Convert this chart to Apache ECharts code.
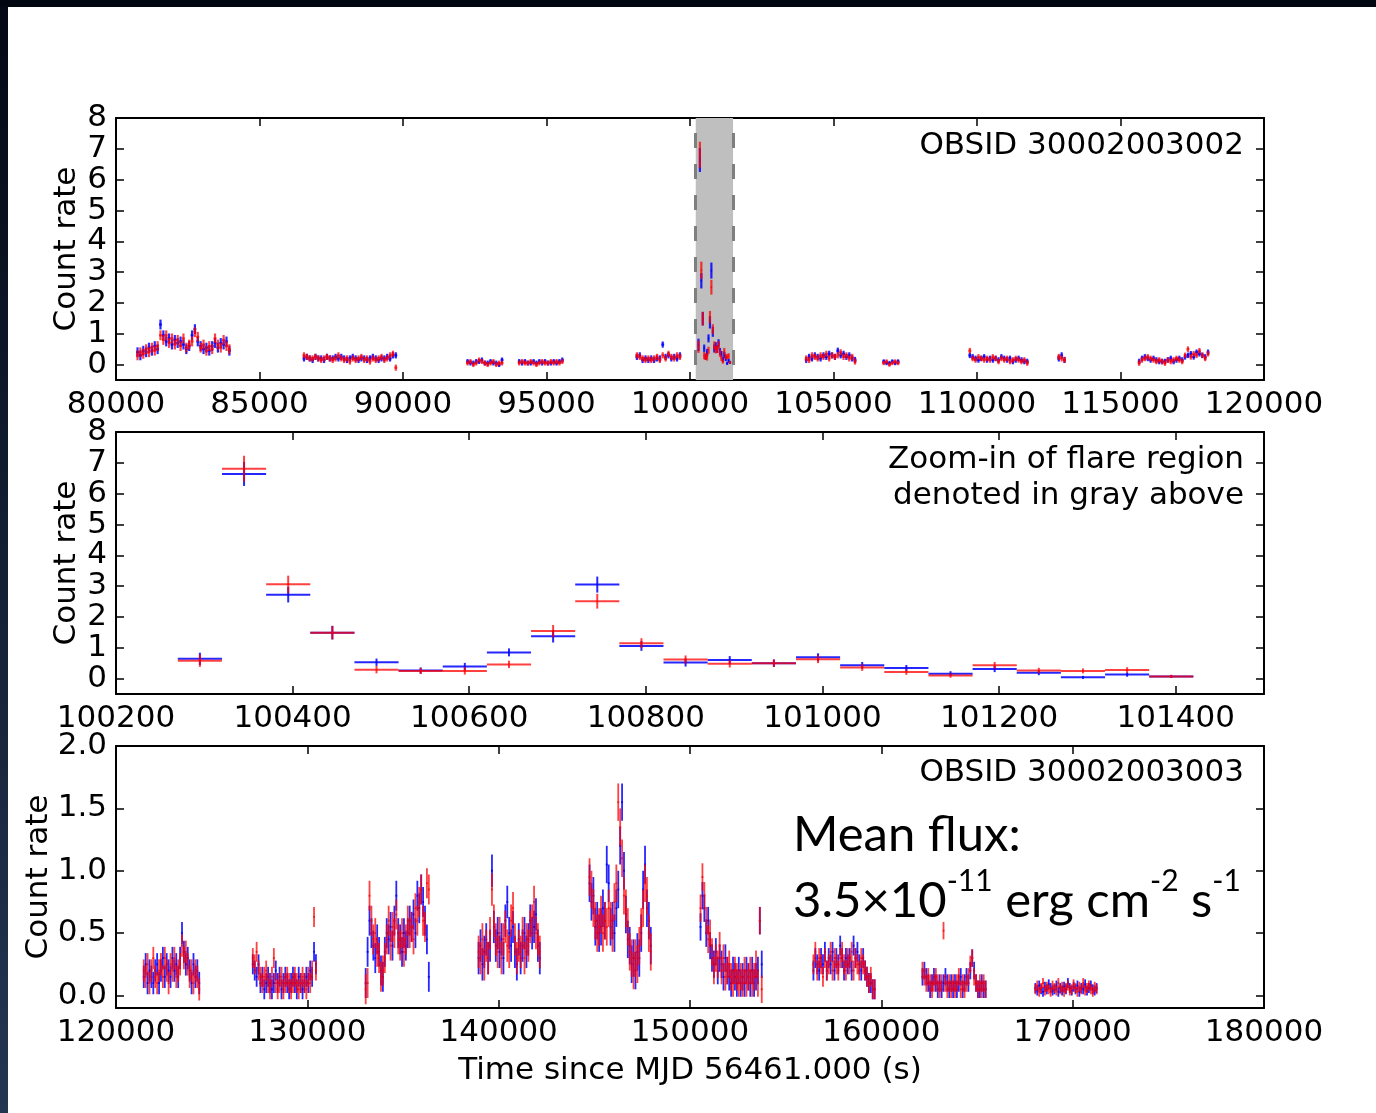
<!DOCTYPE html>
<html>
<head>
<meta charset="utf-8">
<script src="https://cdn.jsdelivr.net/npm/echarts@6/dist/echarts.min.js"></script>
<style>
  html, body { margin: 0; padding: 0; background: #ffffff; }
  #chart { width: 1376px; height: 1113px; }
</style>
</head>
<body>
<div id="chart"></div>
<script>
// ---------------------------------------------------------------------------
// Light-curve data (count rate per bin). Blue = FPMB, red = FPMA.
// ---------------------------------------------------------------------------

// OBSID 30002003002: segment start times (centre of first bin, s) and 100 s bins
const obs1Step = 100;
const obs1Start = [80750, 86550, 92250, 94050, 98150, 104050, 106750, 109750, 112850, 115650];
const obs1Err = [0.16, 0.10, 0.08, 0.08, 0.10, 0.10, 0.07, 0.09, 0.10, 0.09];
const obs1Blue = [
  [0.40,0.30,0.45,0.40,0.55,0.45,0.60,0.50,1.30,0.95,0.75,0.85,0.65,0.80,0.70,0.75,0.65,0.50,0.60,0.95,1.15,0.75,0.60,0.50,0.55,0.45,0.60,0.70,0.55,0.70,0.65,0.75,0.45],
  [0.20,0.25,0.20,0.15,0.25,0.20,0.20,0.15,0.25,0.20,0.20,0.25,0.20,0.25,0.20,0.15,0.20,0.25,0.20,0.15,0.20,0.20,0.15,0.20,0.25,0.20,0.15,0.20,0.20,0.25,0.20,0.30,0.30],
  [0.10,0.05,0.05,0.10,0.10,0.15,0.05,0.05,0.10,0.05,0.05,0.00,0.15],
  [0.10,0.05,0.10,0.05,0.05,0.10,0.05,0.10,0.05,0.10,0.05,0.05,0.10,0.05,0.10,0.15],
  [0.25,0.30,0.15,0.20,0.15,0.20,0.15,0.20,0.20,0.65,0.25,0.30,0.20,0.25,0.20,0.30],
  [0.15,0.25,0.20,0.30,0.25,0.20,0.30,0.25,0.35,0.30,0.25,0.45,0.30,0.35,0.25,0.30,0.20,0.15],
  [0.10,0.05,0.05,0.10,0.05,0.10],
  [0.30,0.25,0.20,0.15,0.20,0.25,0.15,0.20,0.15,0.20,0.15,0.25,0.20,0.15,0.20,0.10,0.15,0.20,0.15,0.10,0.10],
  [0.20,0.30,0.15],
  [0.10,0.20,0.25,0.20,0.15,0.20,0.15,0.10,0.10,0.10,0.15,0.20,0.10,0.15,0.20,0.15,0.25,0.30,0.35,0.25,0.40,0.35,0.30,0.25,0.40]
];
const obs1Red = [
  [0.30,0.40,0.35,0.50,0.40,0.55,0.45,0.60,0.95,0.80,0.95,0.70,0.85,0.65,0.80,0.60,0.85,0.55,0.65,0.75,1.05,0.90,0.55,0.65,0.45,0.60,0.50,0.85,0.65,0.55,0.80,0.60,0.50],
  [0.30,0.25,0.20,0.20,0.25,0.20,0.15,0.20,0.25,0.20,0.15,0.20,0.30,0.20,0.15,0.20,0.10,0.20,0.15,0.20,0.25,0.15,0.20,0.10,0.20,0.15,0.20,0.25,0.15,0.20,0.30,0.35,-0.10],
  [0.05,0.10,0.00,0.05,0.15,0.10,0.05,0.00,0.05,0.10,0.00,0.05,0.05],
  [0.05,0.10,0.05,0.05,0.10,0.05,0.00,0.05,0.10,0.05,0.05,0.10,0.05,0.10,0.05,0.10],
  [0.30,0.25,0.20,0.15,0.20,0.15,0.20,0.25,0.15,0.30,0.20,0.35,0.25,0.20,0.30,0.25],
  [0.20,0.15,0.30,0.25,0.20,0.30,0.25,0.35,0.20,0.30,0.25,0.30,0.40,0.25,0.30,0.20,0.25,0.10],
  [0.05,0.10,0.00,0.05,0.10,0.05],
  [0.45,0.20,0.15,0.25,0.20,0.15,0.20,0.15,0.25,0.20,0.10,0.20,0.15,0.20,0.10,0.15,0.20,0.15,0.10,0.15,0.05],
  [0.25,0.20,0.15],
  [0.05,0.15,0.20,0.25,0.20,0.15,0.10,0.15,0.10,0.05,0.15,0.10,0.15,0.20,0.15,0.10,0.30,0.50,0.25,0.35,0.30,0.45,0.30,0.20,0.35]
];

// Flare interval (50 s bins), shown in the middle panel and shaded in the top one
const flareRange = [100200, 101500];
const flareStep = 50;
const flareTime = [100295,100345,100395,100445,100495,100545,100595,100645,100695,100745,100795,100845,
                   100895,100945,100995,101045,101095,101145,101195,101245,101295,101345,101395];
const flareBlue = [0.64,6.64,2.72,1.49,0.53,0.26,0.39,0.85,1.37,3.05,1.06,0.52,0.60,0.50,0.69,0.43,0.34,0.16,0.31,0.19,0.04,0.13,0.07];
const flareBlueErr = [0.20,0.39,0.25,0.22,0.12,0.10,0.12,0.13,0.20,0.26,0.16,0.13,0.13,0.12,0.13,0.11,0.10,0.08,0.10,0.08,0.05,0.07,0.05];
const flareRed = [0.58,6.81,3.06,1.49,0.29,0.25,0.25,0.46,1.54,2.51,1.15,0.62,0.48,0.50,0.63,0.36,0.21,0.10,0.43,0.26,0.25,0.28,0.07];
const flareRedErr = [0.20,0.42,0.28,0.22,0.12,0.10,0.12,0.12,0.20,0.24,0.16,0.13,0.12,0.12,0.13,0.11,0.09,0.07,0.11,0.09,0.08,0.09,0.05];

// OBSID 30002003003: 100 s bins
const obs2Step = 100;
const obs2Start = [121450, 127150, 133050, 138950, 144750, 150550, 156450, 162150, 168050];
const obs2Err = [0.09, 0.08, 0.12, 0.13, 0.15, 0.11, 0.08, 0.07, 0.04];
const obs2Blue = [
  [0.15,0.25,0.10,0.20,0.15,0.10,0.20,0.25,0.10,0.20,0.30,0.15,0.25,0.20,0.15,0.30,0.20,0.25,0.15,0.30,0.50,0.35,0.25,0.30,0.20,0.10,0.25,0.15,0.20,0.10],
  [0.25,0.20,0.15,0.25,0.10,0.15,0.05,0.10,0.15,0.10,0.05,0.10,0.20,0.10,0.15,0.05,0.10,0.15,0.10,0.05,0.10,0.15,0.10,0.05,0.15,0.10,0.05,0.10,0.15,0.10,0.20,0.15,0.35,0.25],
  [0.10,0.35,0.60,0.50,0.40,0.30,0.45,0.35,0.20,0.15,0.35,0.50,0.45,0.55,0.40,0.60,0.80,0.50,0.45,0.35,0.50,0.40,0.50,0.60,0.55,0.65,0.50,0.80,0.70,0.85,0.75,0.60,0.45,0.15],
  [0.30,0.40,0.25,0.35,0.45,0.30,0.40,1.00,0.55,0.40,0.50,0.35,0.45,0.30,0.60,0.75,0.50,0.40,0.55,0.35,0.25,0.45,0.30,0.40,0.50,0.35,0.45,0.60,0.50,0.55,0.65,0.40,0.30],
  [0.90,0.75,0.80,0.55,0.60,0.50,0.55,0.70,0.60,1.05,0.90,0.55,0.60,0.50,0.70,0.85,1.20,1.55,1.00,0.65,0.45,0.40,0.25,0.30,0.20,0.35,0.30,0.50,0.85,1.05,0.70,0.60,0.40],
  [0.55,0.80,0.70,0.50,0.60,0.40,0.30,0.25,0.35,0.20,0.30,0.25,0.15,0.30,0.20,0.15,0.10,0.20,0.15,0.10,0.20,0.10,0.15,0.10,0.20,0.15,0.10,0.20,0.10,0.15,0.20,0.60,0.25],
  [0.20,0.30,0.25,0.20,0.30,0.25,0.35,0.20,0.30,0.25,0.35,0.20,0.30,0.25,0.40,0.30,0.20,0.30,0.25,0.30,0.20,0.40,0.30,0.35,0.25,0.20,0.30,0.20,0.15,0.10,0.10,0.05,0.05],
  [0.15,0.20,0.15,0.10,0.05,0.10,0.15,0.10,0.05,0.10,0.05,0.10,0.15,0.10,0.05,0.10,0.05,0.10,0.05,0.10,0.15,0.05,0.10,0.15,0.10,0.20,0.30,0.20,0.10,0.05,0.05,0.10,0.05,0.05],
  [0.06,0.04,0.08,0.05,0.03,0.07,0.05,0.09,0.06,0.04,0.05,0.08,0.03,0.06,0.04,0.07,0.05,0.10,0.06,0.04,0.07,0.05,0.08,0.03,0.06,0.05,0.09,0.04,0.06,0.08,0.05,0.04,0.06]
];
const obs2Red = [
  [0.20,0.15,0.25,0.10,0.20,0.30,0.15,0.10,0.20,0.25,0.15,0.30,0.20,0.10,0.25,0.20,0.30,0.15,0.20,0.25,0.40,0.30,0.35,0.25,0.15,0.20,0.10,0.20,0.15,0.05],
  [0.30,0.25,0.35,0.20,0.15,0.10,0.15,0.20,0.10,0.05,0.15,0.30,0.10,0.05,0.10,0.15,0.05,0.10,0.15,0.10,0.05,0.10,0.15,0.10,0.05,0.10,0.15,0.10,0.05,0.15,0.10,0.20,0.63,0.20],
  [0.05,0.10,0.80,0.60,0.45,0.50,0.35,0.30,0.15,0.20,0.30,0.45,0.60,0.40,0.55,0.50,0.65,0.45,0.40,0.50,0.35,0.45,0.60,0.50,0.55,0.45,0.70,0.60,0.75,0.85,0.60,0.55,0.90,0.85],
  [0.35,0.30,0.45,0.25,0.40,0.30,0.50,0.85,0.60,0.45,0.35,0.50,0.30,0.45,0.55,0.40,0.35,0.60,0.70,0.45,0.30,0.40,0.35,0.50,0.30,0.45,0.40,0.55,0.60,0.75,0.50,0.45,0.35],
  [0.95,0.85,0.70,0.60,0.50,0.55,0.65,0.50,0.60,0.55,0.70,0.60,0.50,0.75,0.90,1.55,1.35,1.10,0.80,0.70,0.55,0.35,0.30,0.20,0.30,0.25,0.40,0.55,0.70,0.90,0.80,0.50,0.35],
  [0.70,0.95,0.80,0.60,0.45,0.50,0.35,0.20,0.30,0.25,0.40,0.20,0.30,0.15,0.20,0.25,0.15,0.10,0.20,0.15,0.10,0.15,0.10,0.20,0.10,0.15,0.20,0.10,0.15,0.25,0.10,0.60,0.05],
  [0.25,0.35,0.20,0.30,0.25,0.15,0.30,0.20,0.25,0.35,0.20,0.30,0.25,0.20,0.30,0.35,0.25,0.20,0.30,0.25,0.35,0.20,0.30,0.25,0.20,0.30,0.25,0.20,0.15,0.10,0.15,0.05,0.05],
  [0.20,0.15,0.10,0.15,0.10,0.05,0.10,0.15,0.10,0.05,0.10,0.52,0.10,0.05,0.10,0.05,0.10,0.05,0.10,0.15,0.05,0.10,0.05,0.10,0.15,0.25,0.30,0.15,0.10,0.05,0.10,0.05,0.10,0.05],
  [0.05,0.08,0.03,0.06,0.10,0.04,0.07,0.05,0.03,0.08,0.06,0.04,0.10,0.05,0.07,0.03,0.06,0.08,0.04,0.05,0.09,0.06,0.03,0.07,0.05,0.10,0.04,0.06,0.08,0.05,0.03,0.07,0.05]
];

// Axis tick labels
const xTicksTop = [80000, 85000, 90000, 95000, 100000, 105000, 110000, 115000, 120000];
const xTicksFlare = [100200, 100400, 100600, 100800, 101000, 101200, 101400];
const xTicksObs2 = [120000, 130000, 140000, 150000, 160000, 170000, 180000];
const yTicksRate = [0, 1, 2, 3, 4, 5, 6, 7, 8];
const yTicksObs2 = [0, 0.5, 1.0, 1.5, 2.0];

// ---------------------------------------------------------------------------
// Rows for the error-bar series: [time, rate, error, half bin width]
// ---------------------------------------------------------------------------
function segmentRows(starts, step, values, errs) {
  const rows = [];
  values.forEach((seg, s) => seg.forEach((v, k) => rows.push([starts[s] + k * step, v, errs[s], step / 2])));
  return rows;
}
function flareRows(values, errs) {
  return flareTime.map((t, i) => [t, values[i], errs[i], flareStep / 2]);
}

const FONT = '"DejaVu Sans", "Liberation Sans", sans-serif';
const SLIDE_FONT = 'Lato, "Open Sans", sans-serif';
const BLUE = 'rgba(0,0,255,0.85)';
const RED = 'rgba(255,0,0,0.75)';

// Plot-area layout shared by the three panels
const PLOT_LEFT = 116, PLOT_W = 1148, PLOT_H = 262;
const PANEL_TOP = [118, 432, 746];

// Error bar cross: vertical rate error plus horizontal bin width
function errorBar(lineWidth) {
  return function (params, api) {
    const t = api.value(0), y = api.value(1), e = api.value(2), hb = api.value(3);
    const hi = api.coord([t, y + e]);
    const lo = api.coord([t, y - e]);
    const l = api.coord([t - hb, y]);
    const r = api.coord([t + hb, y]);
    const style = { stroke: api.visual('color'), lineWidth: lineWidth };
    return {
      type: 'group',
      children: [
        { type: 'line', shape: { x1: hi[0], y1: hi[1], x2: lo[0], y2: lo[1] }, style: style },
        { type: 'line', shape: { x1: l[0], y1: l[1], x2: r[0], y2: r[1] }, style: style }
      ]
    };
  };
}

const tickStyle = { inside: true, length: 8, lineStyle: { color: '#000', width: 1.5 } };
const frameLine = { show: true, onZero: false, lineStyle: { color: '#000', width: 2 } };
const labelStyle = { color: '#000', fontSize: 31, fontFamily: FONT };

function xAxesFor(gridIndex, min, max, ticks, extra) {
  const bottom = Object.assign({
    type: 'value', gridIndex: gridIndex, min: min, max: max, position: 'bottom',
    axisLine: frameLine, splitLine: { show: false },
    axisTick: Object.assign({ customValues: ticks }, tickStyle),
    axisLabel: Object.assign({ customValues: ticks, margin: 9, formatter: v => String(v) }, labelStyle)
  }, extra || {});
  const top = {
    type: 'value', gridIndex: gridIndex, min: min, max: max, position: 'top',
    axisLine: frameLine, splitLine: { show: false },
    axisTick: Object.assign({ customValues: ticks }, tickStyle),
    axisLabel: { show: false }
  };
  return [bottom, top];
}
function yAxesFor(gridIndex, min, max, ticks, decimals, nameGap) {
  const left = {
    type: 'value', gridIndex: gridIndex, min: min, max: max, position: 'left',
    axisLine: frameLine, splitLine: { show: false },
    axisTick: Object.assign({ customValues: ticks }, tickStyle),
    axisLabel: Object.assign({ customValues: ticks, margin: 9, formatter: v => v.toFixed(decimals) }, labelStyle),
    name: 'Count rate', nameLocation: 'middle', nameRotate: 90, nameGap: nameGap,
    nameMoveOverlap: false, nameTextStyle: labelStyle
  };
  const right = {
    type: 'value', gridIndex: gridIndex, min: min, max: max, position: 'right',
    axisLine: frameLine, splitLine: { show: false },
    axisTick: Object.assign({ customValues: ticks }, tickStyle),
    axisLabel: { show: false }
  };
  return [left, right];
}

const xAxes = [].concat(
  xAxesFor(0, 80000, 120000, xTicksTop),
  xAxesFor(1, flareRange[0], flareRange[1], xTicksFlare),
  xAxesFor(2, 120000, 180000, xTicksObs2, {
    name: 'Time since MJD 56461.000 (s)', nameLocation: 'middle', nameGap: 47, nameTextStyle: labelStyle
  })
);
const yAxes = [].concat(
  yAxesFor(0, -0.5, 8, yTicksRate, 0, 34),
  yAxesFor(1, -0.5, 8, yTicksRate, 0, 34),
  yAxesFor(2, -0.1, 2.0, yTicksObs2, 1, 62)
);

function barSeries(axisIndex, color, rows, lineWidth, z) {
  return {
    type: 'custom', xAxisIndex: axisIndex * 2, yAxisIndex: axisIndex * 2,
    renderItem: errorBar(lineWidth), data: rows, clip: true,
    itemStyle: { color: color }, silent: true, z: z
  };
}

const series = [
  // Shaded flare interval with dashed edges
  {
    type: 'line', xAxisIndex: 0, yAxisIndex: 0, data: [], z: 1, silent: true,
    markArea: { silent: true, itemStyle: { color: '#bfbfbf', opacity: 1 },
      data: [[{ xAxis: flareRange[0] }, { xAxis: flareRange[1] }]] },
    markLine: { silent: true, symbol: ['none', 'none'], label: { show: false },
      lineStyle: { color: '#7f7f7f', width: 3, type: [15, 16], dashOffset: 16 },
      data: [{ xAxis: flareRange[0] }, { xAxis: flareRange[1] }] }
  },
  barSeries(0, BLUE, segmentRows(obs1Start, obs1Step, obs1Blue, obs1Err).concat(flareRows(flareBlue, flareBlueErr)), 2.2, 3),
  barSeries(0, RED, segmentRows(obs1Start, obs1Step, obs1Red, obs1Err).concat(flareRows(flareRed, flareRedErr)), 2.2, 4),
  barSeries(1, BLUE, flareRows(flareBlue, flareBlueErr), 2, 3),
  barSeries(1, RED, flareRows(flareRed, flareRedErr), 2, 4),
  barSeries(2, BLUE, segmentRows(obs2Start, obs2Step, obs2Blue, obs2Err), 1.8, 3),
  barSeries(2, RED, segmentRows(obs2Start, obs2Step, obs2Red, obs2Err), 1.8, 4)
];

const annotationStyle = { fill: '#000', font: '31px ' + FONT, align: 'right', verticalAlign: 'middle' };

const option = {
  animation: false,
  backgroundColor: '#ffffff',
  grid: PANEL_TOP.map(top => ({ left: PLOT_LEFT, top: top, width: PLOT_W, height: PLOT_H, containLabel: false })),
  xAxis: xAxes,
  yAxis: yAxes,
  series: series,
  graphic: [
    // slide frame
    { type: 'rect', z: 100, shape: { x: 0, y: 0, width: 8, height: 1113 },
      style: { fill: new echarts.graphic.LinearGradient(0, 0, 0, 1, [
        { offset: 0, color: '#030814' }, { offset: 1, color: '#233652' }]) } },
    { type: 'rect', z: 101, shape: { x: 0, y: 0, width: 1376, height: 7 }, style: { fill: '#020611' } },
    // panel annotations
    { type: 'text', z: 50, x: 1244, y: 146, style: Object.assign({ text: 'OBSID 30002003002' }, annotationStyle) },
    { type: 'text', z: 50, x: 1244, y: 460, style: Object.assign({ text: 'Zoom-in of flare region' }, annotationStyle) },
    { type: 'text', z: 50, x: 1244, y: 496, style: Object.assign({ text: 'denoted in gray above' }, annotationStyle) },
    { type: 'text', z: 50, x: 1244, y: 773, style: Object.assign({ text: 'OBSID 30002003003' }, annotationStyle) },
    { type: 'text', z: 50, x: 793, y: 835, style: { text: 'Mean flux:', fill: '#000',
      font: '49px ' + SLIDE_FONT, align: 'left', verticalAlign: 'middle' } },
    { type: 'text', z: 50, x: 793, y: 866, style: {
      text: '{b|3.5×10}{s|-11}{b| erg cm}{s|-2}{b| s}{s|-1}',
      align: 'left', verticalAlign: 'top',
      rich: {
        b: { fill: '#000', fontSize: 49, fontFamily: SLIDE_FONT, lineHeight: 60, verticalAlign: 'bottom' },
        s: { fill: '#000', fontSize: 30, fontFamily: SLIDE_FONT, lineHeight: 44, verticalAlign: 'top' }
      } } }
  ]
};

const chart = echarts.init(document.getElementById('chart'), null, { renderer: 'canvas' });
chart.setOption(option);
</script>
</body>
</html>
